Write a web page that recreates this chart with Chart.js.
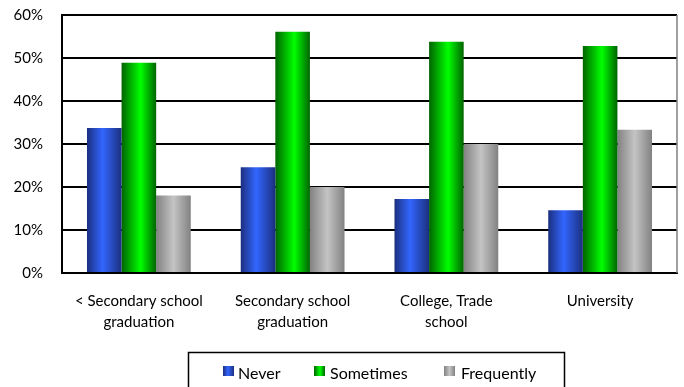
<!DOCTYPE html>
<html>
<head>
<meta charset="utf-8">
<script src="https://cdn.jsdelivr.net/npm/chart.js@4"></script>
<style>
  html, body { margin: 0; padding: 0; background: #fff; }
  #wrap { width: 684px; height: 387px; }
</style>
</head>
<body>
<div id="wrap"><canvas id="c" width="684" height="387"></canvas></div>
<script>
const categories = [
  ["< Secondary school", "graduation"],
  ["Secondary school", "graduation"],
  ["College, Trade", "school"],
  ["University"]
];
const seriesNames = ["Never", "Sometimes", "Frequently"];
const never = [33.7, 24.6, 17.2, 14.6];
const sometimes = [48.9, 56.1, 53.8, 52.8];
const frequently = [18.0, 20.0, 30.0, 33.3];
const yTicks = [0, 10, 20, 30, 40, 50, 60];

// Cylinder-like shading stops for each series: edge, highlight, edge
const shades = [
  ["#1b2f7e", "#3366ff", "#1b2f7e"],
  ["#006400", "#00ff00", "#006400"],
  ["#828282", "#c4c4c4", "#828282"]
];
const highlightPos = [0.45, 0.55, 0.5];

function barGradient(ctx, x0, x1, i) {
  const g = ctx.createLinearGradient(x0, 0, x1, 0);
  const s = shades[i];
  g.addColorStop(0, s[0]);
  g.addColorStop(highlightPos[i], s[1]);
  g.addColorStop(1, s[2]);
  return g;
}

const FONT = "Lato, 'Open Sans', sans-serif";

const shadingPlugin = {
  id: 'shading',
  beforeDatasetsDraw(chart) {
    const ctx = chart.ctx;
    chart.data.datasets.forEach((ds, di) => {
      const meta = chart.getDatasetMeta(di);
      meta.data.forEach(el => {
        const x0 = el.x - el.width / 2, x1 = el.x + el.width / 2;
        el.options = Object.assign({}, el.options, { backgroundColor: barGradient(ctx, x0, x1, di) });
      });
    });
  }
};

const frameLegendPlugin = {
  id: 'frameLegend',
  afterDraw(chart) {
    const ctx = chart.ctx;
    const a = chart.chartArea;
    ctx.save();
    // right edge of the plot frame
    ctx.strokeStyle = "#808080";
    ctx.lineWidth = 1.5;
    ctx.beginPath();
    ctx.moveTo(a.right, a.top);
    ctx.lineTo(a.right, a.bottom);
    ctx.stroke();

    // legend box
    ctx.strokeStyle = "#000";
    ctx.lineWidth = 1.5;
    ctx.strokeRect(188.5, 352.5, 376, 40);

    const items = [
      { sx: 223, tx: 238 },
      { sx: 314, tx: 330 },
      { sx: 444, tx: 461 }
    ];
    ctx.font = "16px " + FONT;
    ctx.textBaseline = "middle";
    ctx.textAlign = "left";
    chart.data.datasets.forEach((ds, i) => {
      const it = items[i];
      ctx.fillStyle = barGradient(ctx, it.sx, it.sx + 11, i);
      ctx.fillRect(it.sx, 366, 11, 10);
      ctx.fillStyle = "#000";
      ctx.fillText(ds.label, it.tx, 374);
    });
    ctx.restore();
  }
};

new Chart(document.getElementById('c'), {
  type: 'bar',
  data: {
    labels: categories,
    datasets: [
      { label: seriesNames[0], data: never },
      { label: seriesNames[1], data: sometimes },
      { label: seriesNames[2], data: frequently }
    ]
  },
  options: {
    responsive: false,
    animation: false,
    devicePixelRatio: 1,
    layout: { padding: { top: 15, right: 7, left: 0, bottom: 0 } },
    datasets: { bar: { barPercentage: 1, categoryPercentage: 0.675, borderWidth: 0 } },
    plugins: { legend: { display: false }, tooltip: { enabled: false } },
    scales: {
      x: {
        grid: { display: false, drawTicks: false },
        border: { display: true, color: "#000", width: 2 },
        ticks: { color: "#000", font: { family: FONT, size: 15, lineHeight: 1.4 }, padding: 18, maxRotation: 0, autoSkip: false },
        afterFit(s) { s.height = 114; }
      },
      y: {
        min: 0, max: 60,
        afterBuildTicks(s) { s.ticks = yTicks.map(v => ({ value: v })); },
        grid: { color: "#000", lineWidth: 2, drawTicks: false },
        border: { display: true, color: "#000", width: 2 },
        ticks: { color: "#000", font: { family: FONT, size: 15 }, padding: 19, callback: v => v + "%" },
        afterFit(s) { s.width = 62; s.paddingTop = 0; s.paddingBottom = 0; }
      }
    }
  },
  plugins: [shadingPlugin, frameLegendPlugin]
});
</script>
</body>
</html>
